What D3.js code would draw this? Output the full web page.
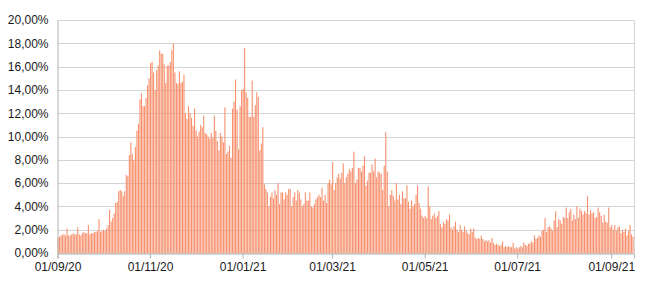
<!DOCTYPE html>
<html>
<head>
<meta charset="utf-8">
<script src="https://cdn.jsdelivr.net/npm/d3@7"></script>
<style>
  body { margin: 0; background: #fff; }
  .tick text { font-family: "Liberation Sans", Arial, sans-serif; font-size: 12px; fill: #1a1a1a; }
</style>
</head>
<body>
<div id="chart"></div>
<script>

// daily positivity (%), one array per month, starting 01/09/2020
var sep20 = [1.3,1.4,1.5,1.6,1.6,1.5,2.1,1.5,1.5,1.6,1.7,1.6,1.6,2.2,1.6,1.5,1.7,1.8,1.7,1.7,2.4,1.6,1.7,1.7,1.8,1.8,1.9,2.9,1.8,1.9];
var oct20 = [2.0,1.9,2.1,2.4,3.7,2.7,3.0,3.4,4.3,4.4,5.3,5.4,5.3,4.9,5.3,6.7,6.6,8.4,9.5,8.5,8.0,9.1,10.5,11.1,13.2,13.7,12.6,12.6,13.3,14.4,15.0];
var nov20 = [16.3,16.4,15.5,14.0,15.7,16.1,17.4,17.1,17.1,16.2,14.6,16.1,16.1,16.4,17.4,18.0,15.5,14.6,14.5,15.6,14.6,14.7,15.3,12.0,11.5,12.6,12.0,11.6,10.9,12.4];
var dec20 = [10.5,10.0,10.4,11.0,10.8,11.8,10.3,10.2,10.0,9.8,10.3,9.9,11.8,10.5,9.6,8.8,10.3,10.0,9.5,12.5,8.5,8.7,9.2,8.2,12.4,13.0,14.9,12.3,8.9,12.6,14.0];
var jan21 = [14.1,17.6,13.8,13.3,11.7,11.7,14.8,11.7,12.7,13.8,13.4,8.8,9.4,10.8,5.9,5.5,5.2,4.0,4.8,5.2,4.7,5.4,5.0,6.0,4.2,5.2,5.2,4.6,5.2,5.0,5.5];
var feb21 = [5.5,4.0,4.8,5.2,4.5,5.4,5.2,4.6,4.0,4.2,5.2,4.5,4.5,5.2,4.0,3.9,4.2,4.6,4.8,5.0,4.8,5.6,4.5,5.0,4.3,6.0,6.3,5.9];
var mar21 = [7.8,5.4,6.0,6.5,6.8,6.4,6.9,7.7,6.0,6.5,6.8,7.2,7.0,7.3,8.7,6.0,6.3,7.3,7.3,7.0,7.5,8.3,5.8,6.2,6.9,6.9,7.6,7.0,8.1,6.5,7.0];
var apr21 = [6.9,6.8,5.4,7.5,10.4,7.0,4.0,5.0,5.4,4.9,4.5,6.0,4.6,5.0,4.2,5.3,4.7,4.7,5.8,4.4,3.8,4.5,4.0,4.2,5.0,5.8,4.3,3.8,3.2,3.0];
var may21 = [3.2,3.0,5.7,4.0,2.9,3.2,3.4,3.0,3.2,3.6,2.5,2.2,2.7,2.5,2.9,2.8,3.3,2.2,2.0,2.3,2.7,2.0,1.8,2.4,2.0,1.8,2.3,1.9,1.7,1.6,2.1];
var jun21 = [1.8,2.1,1.3,1.2,1.3,1.2,1.5,1.2,1.0,1.1,1.0,1.1,0.9,1.3,0.9,0.7,0.8,0.7,0.6,0.7,1.0,0.5,0.6,0.5,0.6,0.5,0.5,0.9,0.4,0.5];
var jul21 = [0.4,0.5,0.6,0.5,0.9,0.7,0.6,0.8,0.8,1.0,0.9,1.5,1.2,1.3,1.5,1.4,1.9,2.0,3.0,1.8,2.2,2.3,2.1,1.9,2.8,3.6,2.2,2.9,2.8,2.5,3.1];
var aug21 = [3.0,3.9,3.0,3.5,3.8,2.8,3.3,2.9,4.0,3.0,3.8,3.6,3.3,3.6,3.4,4.9,3.3,3.7,3.4,3.5,3.0,3.1,3.9,3.5,3.2,2.6,3.3,2.7,2.6,3.9,2.2];
var sep21 = [2.4,2.0,2.4,1.9,2.2,2.3,1.7,2.0,1.8,2.1,1.5,1.9,2.4,1.6,1.4];

var xTickDates = ["2020-09-01","2020-11-01","2021-01-01","2021-03-01","2021-05-01","2021-07-01","2021-09-01"];
var yTicks = [0,2,4,6,8,10,12,14,16,18,20];

var svgWidth = 650;
var svgHeight = 288;

var margin = {
  top: 20,
  right: 16,
  bottom: 35,
  left: 57.5
};

var width = svgWidth - margin.left - margin.right;
var height = svgHeight - margin.top - margin.bottom;

var values = [].concat(sep20, oct20, nov20, dec20, jan21, feb21, mar21, apr21, may21, jun21, jul21, aug21, sep21);
var parseDay = d3.utcParse("%Y-%m-%d");
var startDay = parseDay("2020-09-01");

var chartData = values.map(function(v, i) {
  return { day: d3.utcDay.offset(startDay, i), value: v };
});

var svg = d3.select("#chart")
  .append("svg")
  .attr("width", svgWidth)
  .attr("height", svgHeight);

var chartGroup = svg.append("g")
  .attr("transform", `translate(${margin.left}, ${margin.top})`);

var xTimeScale = d3.scaleUtc()
  .domain([startDay, d3.utcDay.offset(startDay, values.length)])
  .range([0, width]);

var yLinScale = d3.scaleLinear()
  .domain([0, 20])
  .range([height, 0]);

// grid lines
chartGroup.append("g")
  .selectAll("line")
  .data(yTicks)
  .enter()
  .append("line")
  .attr("x1", 0)
  .attr("x2", width)
  .attr("y1", d => Math.round(yLinScale(d)) + 0.5)
  .attr("y2", d => Math.round(yLinScale(d)) + 0.5)
  .attr("stroke", "#d4d4d4")
  .attr("stroke-width", 1);

// right border
chartGroup.append("line")
  .attr("x1", width + 0.5)
  .attr("x2", width + 0.5)
  .attr("y1", Math.round(yLinScale(20)) + 0.5)
  .attr("y2", height)
  .attr("stroke", "#d4d4d4");

// bars
var dayWidth = xTimeScale(d3.utcDay.offset(startDay, 1)) - xTimeScale(startDay);

chartGroup.append("g")
  .selectAll("rect")
  .data(chartData)
  .enter()
  .append("rect")
  .attr("x", d => xTimeScale(d.day))
  .attr("width", dayWidth * 0.72)
  .attr("y", d => yLinScale(d.value))
  .attr("height", d => height - yLinScale(d.value))
  .attr("fill", "#f7906d");

var leftAxis = d3.axisLeft(yLinScale)
  .tickValues(yTicks)
  .tickSize(0)
  .tickPadding(9)
  .tickFormat(d => d.toFixed(2).replace(".", ",") + "%");

var bottomAxis = d3.axisBottom(xTimeScale)
  .tickValues(xTickDates.map(parseDay))
  .tickSize(5)
  .tickPadding(4)
  .tickFormat(d3.utcFormat("%d/%m/%y"));

var yAxisGroup = chartGroup.append("g")
  .call(leftAxis);

var xAxisGroup = chartGroup.append("g")
  .attr("transform", `translate(0, ${Math.round(height) + 0.5})`)
  .call(bottomAxis);

yAxisGroup.select(".domain").attr("stroke", "#b3b3b3");
xAxisGroup.select(".domain").attr("stroke", "#b3b3b3");
xAxisGroup.selectAll(".tick line").attr("stroke", "#b3b3b3");

</script>
</body>
</html>
